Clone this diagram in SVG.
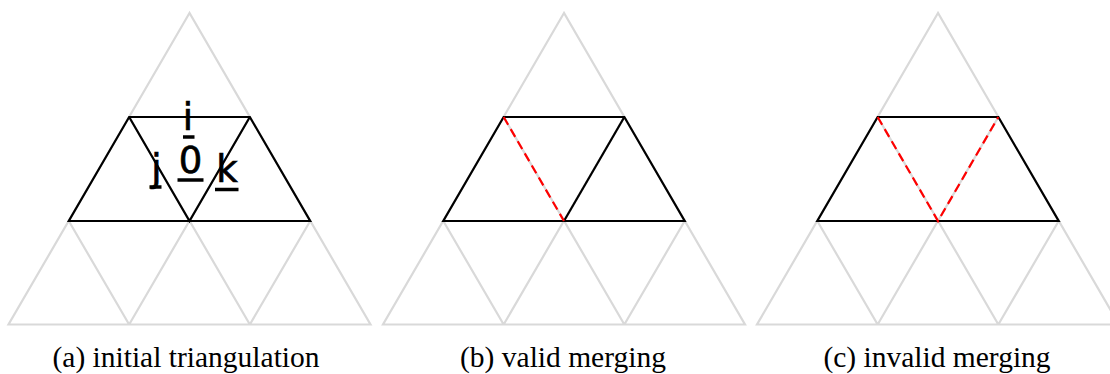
<svg xmlns="http://www.w3.org/2000/svg" xmlns:xlink="http://www.w3.org/1999/xlink" width="1110" height="374" viewBox="0 0 1110 374">
<style>
.grid{fill:none;stroke:#d9d9d9;stroke-width:2.2;stroke-linejoin:miter}
.edge{fill:none;stroke:#000;stroke-width:2.2;stroke-linejoin:miter}
.red{fill:none;stroke:#ff0000;stroke-width:2.2;stroke-dasharray:9,5}
.lbl{font-family:"DejaVu Sans",sans-serif;font-size:37px;fill:#000;stroke:#000;stroke-width:0.7;text-anchor:middle}
.ul{stroke:#000;stroke-width:3.5}
.cap{font-family:"Liberation Serif","Times New Roman",serif;font-size:29.5px;fill:#000;text-anchor:middle}
</style>
<defs>
<path id="gridpath" class="grid" d="M0,13 L-181,324.5 L181,324.5 Z M-60.35,117 H60.35 M-120.7,221 H120.7 M-60.35,117 L60.35,324.5 M60.35,117 L-60.35,324.5 M-120.7,221 L-60.35,324.5 M120.7,221 L60.35,324.5"/>
<path id="trap" class="edge" d="M-60.35,117 H60.35 L120.7,221 H-120.7 Z"/>
</defs>
<g id="panel-a" transform="translate(189.5,0)">
<use xlink:href="#gridpath"/>
<use xlink:href="#trap"/>
<path class="edge" d="M-60.35,117 L0,221 L60.35,117"/>
<g id="labels-a">
<text class="lbl" x="-1.5" y="130">i</text>
<line class="ul" x1="-6.5" y1="137" x2="5" y2="137"/>
<text class="lbl" x="1" y="173">0</text>
<line class="ul" x1="-12" y1="180" x2="14" y2="180"/>
<text class="lbl" x="-33" y="181">j</text>
<line class="ul" x1="-40" y1="187" x2="-28" y2="187"/>
<text class="lbl" x="37.5" y="182">k</text>
<line class="ul" x1="25.5" y1="189.5" x2="49" y2="189.5"/>
</g>
</g>
<g id="panel-b" transform="translate(564,0)">
<use xlink:href="#gridpath"/>
<use xlink:href="#trap"/>
<path class="edge" d="M60.35,117 L0,221"/>
<path class="red" d="M-60.35,117 L0,221"/>
</g>
<g id="panel-c" transform="translate(938,0)">
<use xlink:href="#gridpath"/>
<use xlink:href="#trap"/>
<path class="red" d="M-60.35,117 L0,221 L60.35,117"/>
</g>
<g id="captions">
<text class="cap" x="186" y="367">(a) initial triangulation</text>
<text class="cap" x="563" y="367">(b) valid merging</text>
<text class="cap" x="937" y="367">(c) invalid merging</text>
</g>
</svg>
